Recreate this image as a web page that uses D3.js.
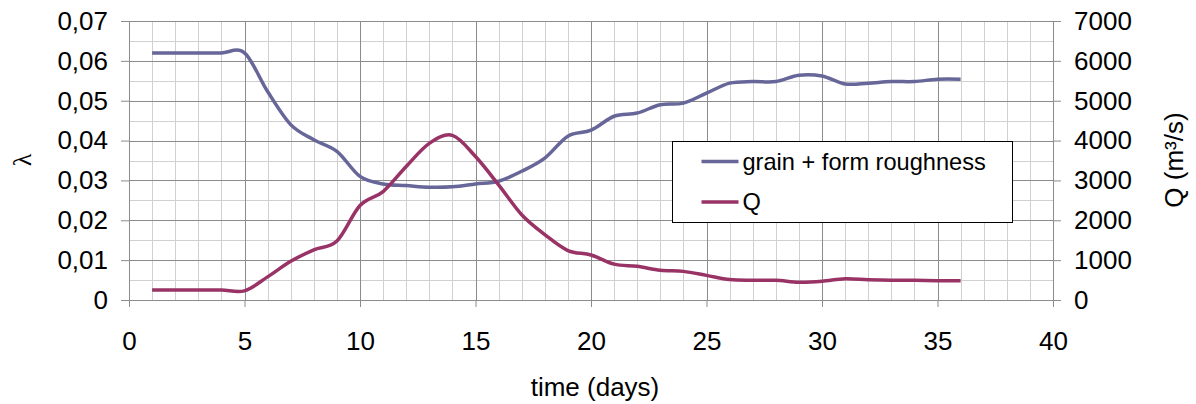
<!DOCTYPE html>
<html>
<head>
<meta charset="utf-8">
<script src="https://cdn.jsdelivr.net/npm/d3@7"></script>
<style>
  body { margin: 0; background: #fff; }
  text { font-family: "Liberation Sans", Arial, sans-serif; fill: #000; }
</style>
</head>
<body>
<svg id="chart" width="1196" height="404"></svg>
<script>
// donnees (jour, lambda, debit)
var days = [1, 2, 3, 4, 5, 6, 7, 8, 9, 10, 11, 12, 13, 14, 15, 16, 17, 18,
            19, 20, 21, 22, 23, 24, 25, 26, 27, 28, 29, 30, 31, 32, 33, 34, 35, 36];
var lambda = [0.062, 0.062, 0.062, 0.062, 0.062, 0.0523, 0.044, 0.0402, 0.0373, 0.031,
              0.0291, 0.0287, 0.0283, 0.0284, 0.0291, 0.0298, 0.0323, 0.0356, 0.0411, 0.0426,
              0.0461, 0.0469, 0.049, 0.0494, 0.0519, 0.0544, 0.0548, 0.0548, 0.0564, 0.0562,
              0.0542, 0.0544, 0.0548, 0.0548, 0.0554, 0.0554];
var discharge = [250, 250, 250, 250, 230, 580, 970, 1260, 1480, 2370,
                 2720, 3350, 3930, 4130, 3600, 2890, 2140, 1640, 1240, 1130,
                 900, 845, 745, 718, 618, 512, 495, 495, 445, 468,
                 535, 510, 495, 493, 485, 485];

var xTicks = [0, 5, 10, 15, 20, 25, 30, 35, 40];
var lambdaTicks = [0, 0.01, 0.02, 0.03, 0.04, 0.05, 0.06, 0.07];
var qTicks = [0, 1000, 2000, 3000, 4000, 5000, 6000, 7000];
var seriesNames = ["grain + form roughness", "Q"];
var colors = ["#666699", "#993366"];

var svg = d3.select("#chart"),
    margin = { top: 21, right: 143, bottom: 104, left: 129 },
    width = +svg.attr("width") - margin.left - margin.right,
    height = +svg.attr("height") - margin.top - margin.bottom;

var x = d3.scaleLinear().domain([0, 40]).range([0, width]);
var yL = d3.scaleLinear().domain([0, 0.07]).range([height, 0]);
var yR = d3.scaleLinear().domain([0, 7000]).range([height, 0]);

var g = svg.append("g")
    .attr("transform", "translate(" + margin.left + "," + margin.top + ")");

// grille mineure puis majeure
g.selectAll(".vminor").data(x.ticks(40)).enter().append("line")
    .attr("x1", function (d) { return Math.round(x(d)) + 0.5; })
    .attr("x2", function (d) { return Math.round(x(d)) + 0.5; })
    .attr("y1", 0).attr("y2", height)
    .attr("stroke", "#d0d0d0");
g.selectAll(".hminor").data(yL.ticks(14)).enter().append("line")
    .attr("y1", function (d) { return Math.round(yL(d)) + 0.5; })
    .attr("y2", function (d) { return Math.round(yL(d)) + 0.5; })
    .attr("x1", 0).attr("x2", width)
    .attr("stroke", "#d0d0d0");
g.selectAll(".vmajor").data(xTicks).enter().append("line")
    .attr("x1", function (d) { return Math.round(x(d)) + 0.5; })
    .attr("x2", function (d) { return Math.round(x(d)) + 0.5; })
    .attr("y1", 0).attr("y2", height)
    .attr("stroke", "#8c8c8c");
g.selectAll(".hmajor").data(lambdaTicks).enter().append("line")
    .attr("y1", function (d) { return Math.round(yL(d)) + 0.5; })
    .attr("y2", function (d) { return Math.round(yL(d)) + 0.5; })
    .attr("x1", 0).attr("x2", width)
    .attr("stroke", "#8c8c8c");

// axes
var fmt = function (d) { return d === 0 ? "0" : d3.format(".2f")(d).replace(".", ","); };

var axL = g.append("g")
    .call(d3.axisLeft(yL).tickValues(lambdaTicks).tickFormat(fmt)
        .tickSize(8).tickSizeOuter(0).tickPadding(13));
var axR = g.append("g")
    .attr("transform", "translate(" + width + ",0)")
    .call(d3.axisRight(yR).tickValues(qTicks).tickFormat(d3.format("d"))
        .tickSize(8).tickSizeOuter(0).tickPadding(13));
var axB = g.append("g")
    .attr("transform", "translate(0," + height + ")")
    .call(d3.axisBottom(x).tickValues(xTicks)
        .tickSize(7).tickSizeOuter(0).tickPadding(25));

[axL, axR, axB].forEach(function (a) {
    a.selectAll("path, line").attr("stroke", "#8c8c8c");
    a.selectAll("text").style("font-size", "26px").attr("fill", "#000");
});

// courbes lissees
var lineL = d3.line()
    .x(function (d, i) { return x(days[i]); })
    .y(function (d) { return yL(d); })
    .curve(d3.curveCardinal.tension(0));
var lineR = d3.line()
    .x(function (d, i) { return x(days[i]); })
    .y(function (d) { return yR(d); })
    .curve(d3.curveCardinal.tension(0));

g.append("path").datum(lambda)
    .attr("d", lineL).attr("fill", "none")
    .attr("stroke", colors[0]).attr("stroke-width", 3.5);
g.append("path").datum(discharge)
    .attr("d", lineR).attr("fill", "none")
    .attr("stroke", colors[1]).attr("stroke-width", 3.5);

// titres des axes
svg.append("text")
    .attr("x", 595).attr("y", 396)
    .attr("text-anchor", "middle")
    .style("font-size", "26px")
    .text("time (days)");
svg.append("text")
    .attr("transform", "translate(31,160) rotate(-90)")
    .attr("text-anchor", "middle")
    .style("font-size", "26px")
    .style("font-family", "'Liberation Serif', serif")
    .text("λ");
svg.append("text")
    .attr("transform", "translate(1183,160) rotate(-90)")
    .attr("text-anchor", "middle")
    .style("font-size", "26px")
    .text("Q (m³/s)");

// legende
var leg = svg.append("g").attr("transform", "translate(672.5,141.5)");
leg.append("rect")
    .attr("width", 340).attr("height", 81)
    .attr("fill", "#fff").attr("stroke", "#000").attr("stroke-width", 1);
var item = leg.selectAll(".item").data(seriesNames).enter().append("g")
    .attr("transform", function (d, i) { return "translate(0," + (20 + i * 40.5) + ")"; });
item.append("line")
    .attr("x1", 29).attr("x2", 66)
    .attr("stroke", function (d, i) { return colors[i]; })
    .attr("stroke-width", 3.5);
item.append("text")
    .attr("x", 70).attr("dy", "0.35em")
    .style("font-size", "23.6px")
    .text(function (d) { return d; });
</script>
</body>
</html>
